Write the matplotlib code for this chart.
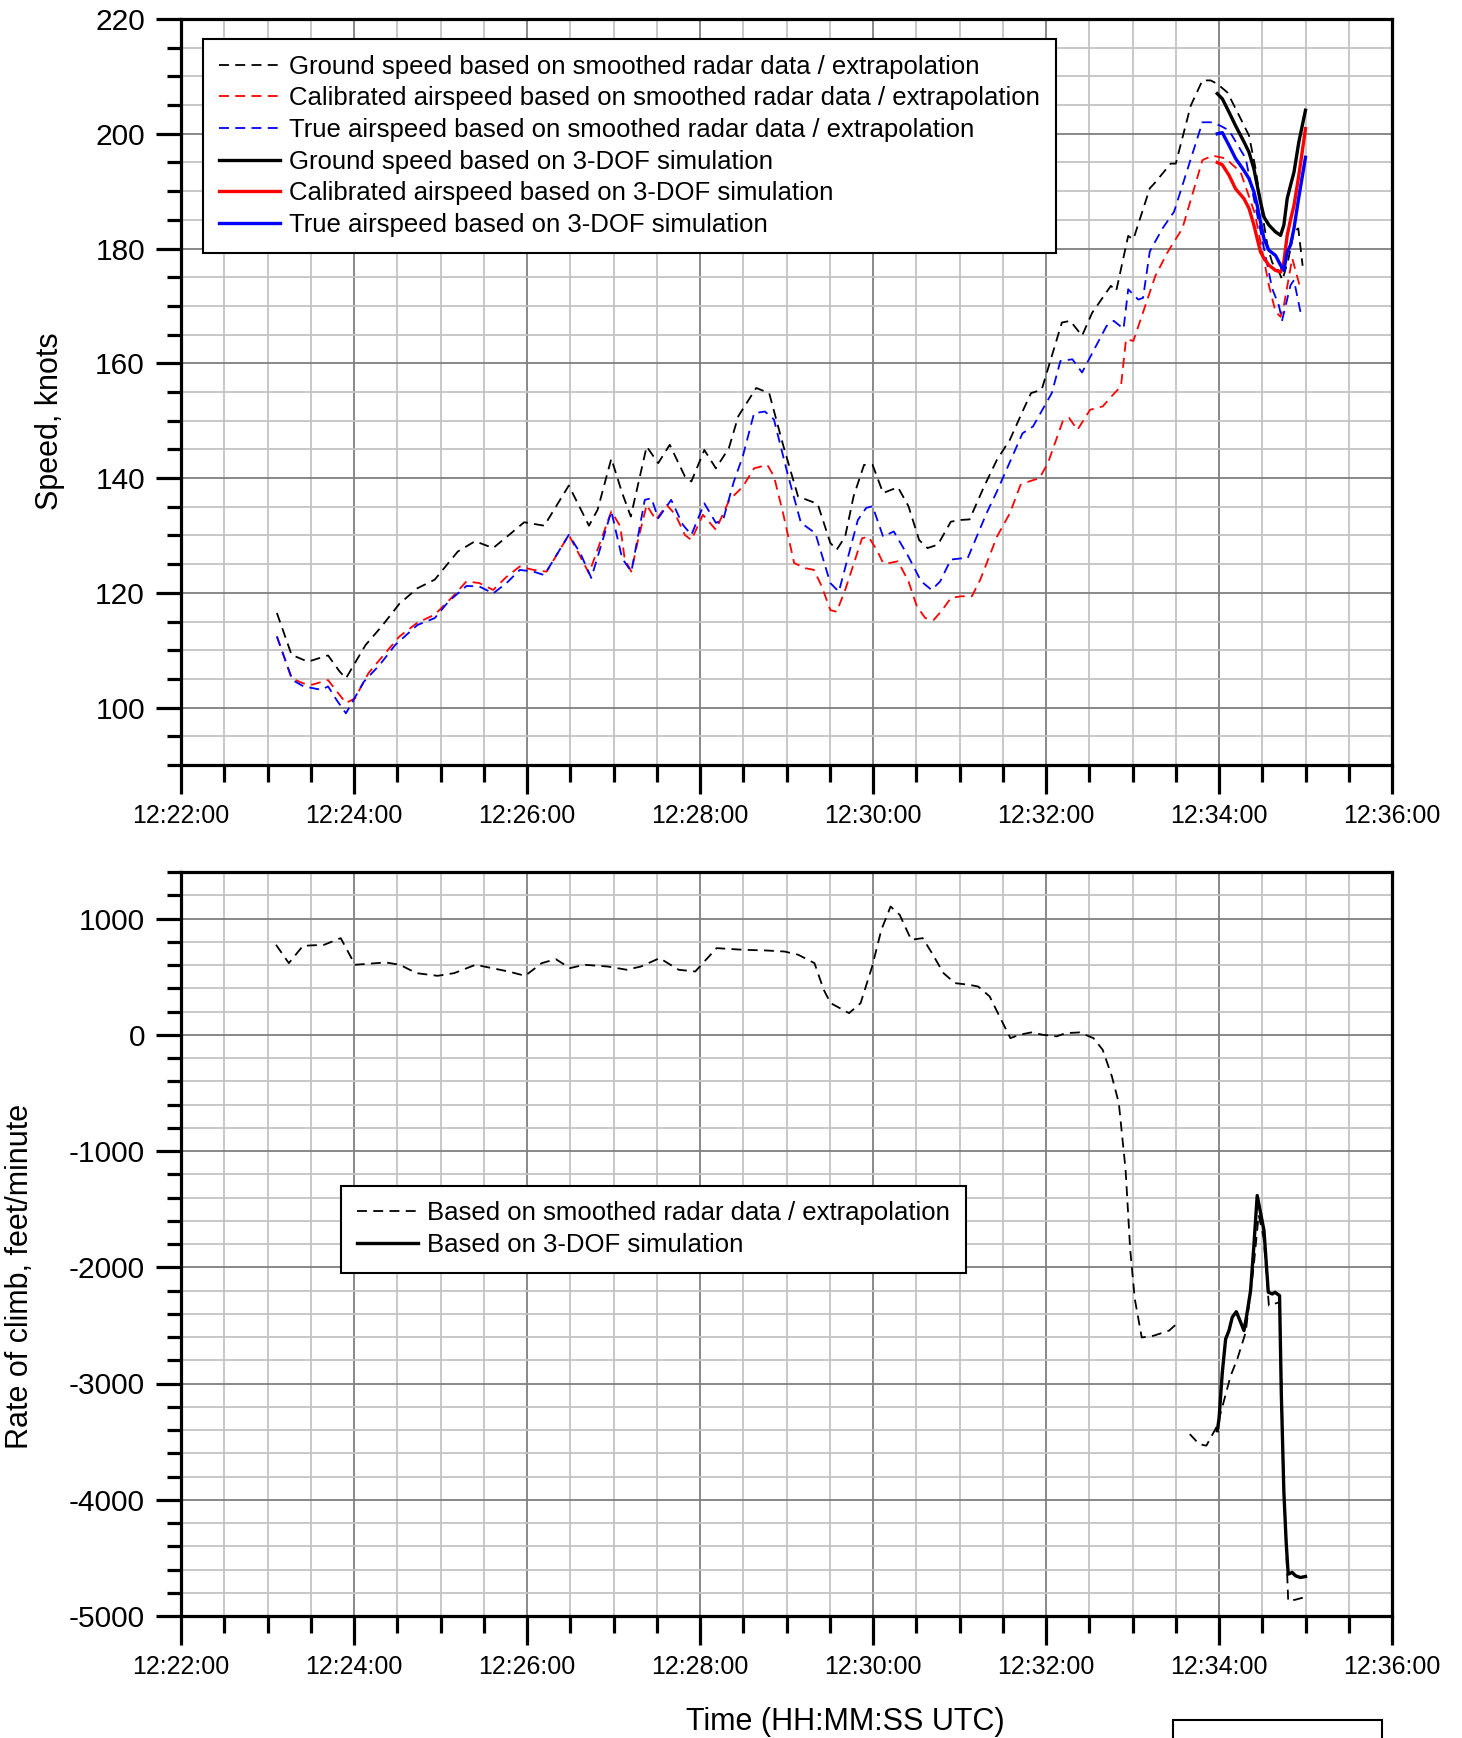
import numpy as np
import matplotlib
matplotlib.use("Agg")
import matplotlib.pyplot as plt
from matplotlib.ticker import MultipleLocator, FuncFormatter
from matplotlib.patches import Rectangle

plt.rcParams['font.family'] = ['Liberation Sans', 'DejaVu Sans']
plt.rcParams['axes.unicode_minus'] = False

# time axis: seconds after 12:22:00 UTC
T0 = 12 * 3600 + 22 * 60

# ---- top chart: speeds (knots) ----
gs_radar_t = [66.5, 76.7, 88, 102, 110, 114.4, 128, 139, 151.5, 164, 176, 192, 204, 216.5, 229, 238, 252,
              269, 283, 289, 298.5, 306, 312, 323, 331, 339, 349.5, 354, 363, 371, 380, 386.6, 399, 408,
              417.6, 428, 441.6, 450.4, 454.8, 460.7, 466.5, 473.8, 479.7, 487, 497.3, 504.6, 512, 517.8,
              525, 534, 541, 547, 557, 566, 575, 583.7, 589.6, 597, 611, 616.8, 625, 632, 645, 648.7, 657,
              660.6, 672, 675, 686.5, 690, 700.4, 708.5, 714.2, 718.8, 725.8, 732.7, 740.8, 745.4, 750,
              754, 757, 761.5, 764, 768, 772, 775, 778]
gs_radar_v = [116.5, 109.2, 108.0, 109.1, 106.3, 105.1, 110.9, 114.1, 118.1, 120.8, 122.3, 127.2, 129.0, 127.8,
              130.4, 132.3, 131.7, 138.7, 131.7, 134.5, 143.4, 137.4, 133.3, 145.5, 142.6, 145.8, 140.3,
              139.4, 144.9, 141.7, 145.2, 150.8, 155.7, 154.8, 145.8, 136.8, 135.5, 128.7, 127.5, 129.8,
              136.8, 142.3, 142.3, 137.4, 138.4, 135.1, 129.2, 127.8, 128.4, 132.4, 132.7, 132.8, 138.5,
              143.2, 146.7, 151.6, 154.8, 155.4, 167.1, 167.4, 164.8, 168.8, 173.5, 172.6, 182.2, 181.6,
              190.5, 191.3, 194.8, 194.8, 204.9, 209.3, 209.3, 208.7, 207.2, 203.8, 199.7, 193.9, 186,
              180, 177.5, 176, 174.5, 178, 183, 183.5, 177]

cas_radar_t = [66.5, 76.7, 85, 91, 102, 114.4, 120.6, 130, 140.7, 151.5, 164, 176, 188.7, 198, 207, 216.5,
               225.8, 235, 244.4, 253.6, 269, 277, 283, 298.5, 304.7, 307.8, 312.4, 317, 323, 329.4, 337,
               343, 349.5, 354, 362, 371, 380.4, 389.7, 397.5, 406.7, 411.3, 417.6, 425.3, 433, 439, 444.5,
               450.4, 454.8, 460.7, 472.4, 476.8, 482.6, 487, 491.4, 497.3, 504.6, 510.5, 516.3, 522.2,
               528, 534, 541, 548.6, 554.4, 566, 575, 582.3, 588.1, 595.5, 601.3, 611.6, 616, 621.8, 630.6,
               639.4, 645.3, 652, 655.5, 660.6, 675.8, 684.2, 694.6, 708.5, 715.4, 724.6, 735, 745, 754.6,
               759.2, 762.7, 765, 770.8, 776.5]
cas_radar_v = [112.4, 105.1, 104.2, 104.0, 104.8, 100.8, 101.6, 106.0, 109.2, 112.4, 114.8, 116.2, 119.4, 122.0,
               121.7, 120.5, 122.8, 124.6, 124.0, 123.7, 130.1, 126.3, 123.4, 134.2, 131.6, 125.8, 123.7,
               129.2, 135.3, 132.7, 135.3, 133.6, 130.1, 129.2, 133.6, 131.0, 136.2, 138.5, 141.7, 142.3,
               140.3, 133.9, 125.2, 124.3, 124.0, 121.1, 117.0, 116.7, 120.5, 129.5, 129.8, 127.5, 125.2,
               125.2, 125.5, 122.0, 117.6, 115.6, 115.3, 117.0, 119.1, 119.4, 119.4, 122.3, 129.8, 133.9,
               138.8, 139.4, 140.0, 142.6, 149.9, 150.5, 148.4, 151.9, 152.5, 154.2, 156.0, 164.2, 163.9,
               175.2, 179.3, 183.5, 195.4, 196.2, 195.7, 193.3, 186, 173.6, 169, 168.1, 170.1, 178.3, 173]

tas_radar_t = [66.5, 77.3, 85, 97.4, 102, 108, 114.4, 126.8, 138, 148.5, 164, 176, 185.6, 198, 207, 216.5,
               225.8, 235, 244.4, 252, 269, 277, 284.6, 298.5, 306, 312.4, 321.7, 326.3, 331, 340, 348, 354,
               363, 371, 376, 383.5, 389.7, 397.5, 405, 411.3, 420.6, 430, 440, 450.4, 456.3, 469.5, 475.3,
               479.7, 487, 494.4, 504.6, 513.4, 520.7, 526.6, 534, 541, 545.6, 558.8, 566, 583.7, 591, 604,
               610, 618.3, 625, 642, 647, 653.8, 657, 664, 667.3, 672, 680.8, 688.8, 708.5, 715.4, 720.9,
               726.9, 738.5, 748, 756.9, 761.5, 763.8, 769.6, 772, 777.2]
tas_radar_v = [112.4, 104.8, 103.7, 103.1, 103.7, 101.3, 99.0, 104.5, 107.5, 110.9, 114.4, 115.6, 118.5, 121.2,
               121.1, 119.9, 121.7, 124.0, 123.7, 123.1, 130.1, 126.9, 122.6, 134.2, 126.0, 123.7, 136.2,
               136.5, 133.0, 136.2, 131.9, 130.1, 135.6, 132.2, 132.7, 139.4, 143.8, 151.3, 151.6, 150.2,
               140.9, 132.2, 130.4, 121.7, 120.2, 132.7, 134.8, 135.1, 129.8, 130.7, 126.3, 122.0, 120.5,
               122.0, 125.8, 126.0, 126.0, 133.9, 137.7, 147.8, 149.0, 154.8, 160.4, 160.7, 158.4, 166.5,
               167.4, 166.0, 172.9, 171.1, 171.4, 179.5, 183.5, 186.4, 202.0, 202.0, 201.4, 200.6, 195.7,
               184, 173.0, 170.1, 167.5, 173.6, 174.5, 168.1]

sim_t = [718.8, 722.3, 726.9, 731.5, 737.3, 740.8, 744.2, 746.5, 748.8, 751.2, 754.6, 759.2, 762.7, 765,
         767.3, 769.6, 772, 775.4, 780]
gs_sim_v = [207.0, 206.1, 203.8, 201.4, 198.6, 196.8, 193.9, 191.0, 188.1, 185.5, 184.1, 182.9, 182.3, 184.1,
            188.7, 191.0, 193.3, 198.6, 204.1]
cas_sim_v = [195.0, 194.6, 192.8, 190.4, 188.7, 187.0, 184.1, 181.7, 179.4, 178.3, 177.1, 176.2, 175.9, 177.7,
             182.3, 185.0, 187.5, 192.8, 200.9]
tas_sim_v = [200.0, 200.2, 198.0, 195.7, 193.6, 192.2, 189.9, 187.5, 184.6, 181.7, 179.7, 178.8, 177.1, 176.2,
             179.4, 180.6, 183.5, 189.0, 195.9]

# ---- bottom chart: rate of climb (ft/min) ----
roc_radar_t = [65.9, 74.8, 84.6, 99.3, 110.8, 120.7, 142, 151.8, 163.3, 178, 189.5, 204.3, 215.7, 227.2, 238.7,
               250.2, 260, 269.8, 279.7, 296, 309.2, 319, 332, 345.2, 356.7, 371.5, 389.8, 405.8, 418.6,
               428.2, 439.4, 445.8, 450.6, 463.4, 471.4, 479.4, 485.8, 492.2, 498.5, 506.5, 514.5, 520.9,
               528.9, 536.9, 546.5, 552.9, 560.9, 568.9, 575.3, 581.7, 589.7, 597.7, 607.3, 613.7, 623.3,
               632.9, 639.3, 645.7, 650.5, 655.2, 656.8, 658.4, 661.6, 666.4, 674.4, 685.4, 690.5, 695,
               699.7, 706.2, 711.2, 718.8, 728.1, 732.7, 738.5, 744, 747.5, 751, 754.6, 762, 765, 768, 773,
               778.8]
roc_radar_v = [774, 616, 765, 774, 831, 602, 622, 602, 530, 507, 530, 602, 573, 544, 507, 616, 650, 573, 602,
               587, 559, 587, 659, 559, 544, 745, 731, 725, 716, 688, 616, 387, 272, 186, 272, 587, 903, 1103,
               1032, 817, 831, 702, 530, 444, 430, 415, 330, 129, -29, 0, 20, 0, -14, 14, 20, -29, -129, -358,
               -587, -1160, -1504, -1848, -2274, -2604, -2590, -2545, -2488, np.nan, -3435, -3521, -3535,
               -3363, -2933, -2789, -2560, -2000, -1550, -1750, -2330, -2300, -3900, -4870, -4860, -4840]

roc_sim_t = [718.8, 720, 722.3, 724.6, 726.9, 729.2, 732, 735, 737.3, 739.2, 741.9, 744.2, 746.5, 751.2, 754.2,
             757, 758.8, 762, 763.2, 765, 766.6, 768, 770.8, 773.1, 776.5, 780]
roc_sim_v = [-3406, -3306, -2904, -2617, -2545, -2430, -2382, -2473, -2545, -2416, -2201, -1813, -1383, -1684,
             -2215, -2230, -2215, -2244, -3076, -3937, -4367, -4640, -4625, -4654, -4669, -4660]

top_labels = ["Ground speed based on smoothed radar data / extrapolation",
              "Calibrated airspeed based on smoothed radar data / extrapolation",
              "True airspeed based on smoothed radar data / extrapolation",
              "Ground speed based on 3-DOF simulation",
              "Calibrated airspeed based on 3-DOF simulation",
              "True airspeed based on 3-DOF simulation"]
bottom_labels = ["Based on smoothed radar data / extrapolation", "Based on 3-DOF simulation"]


def hms(x, pos):
    s = int(round(T0 + x))
    return "%d:%02d:%02d" % (s // 3600, (s % 3600) // 60, s % 60)


W, H = 1462, 1738
fig = plt.figure(figsize=(W / 100, H / 100), dpi=100)
left, right = 181, 1392
ax1 = fig.add_axes([left / W, 1 - 765 / H, (right - left) / W, (765 - 19) / H])
ax2 = fig.add_axes([left / W, 1 - 1616 / H, (right - left) / W, (1616 - 872) / H])

DASH = (0, (5.5, 3.5))
dlw, slw = 1.3, 2.4

ax1.plot(gs_radar_t, gs_radar_v, color='black', lw=dlw, ls=DASH, label=top_labels[0])
ax1.plot(cas_radar_t, cas_radar_v, color='red', lw=dlw, ls=DASH, label=top_labels[1])
ax1.plot(tas_radar_t, tas_radar_v, color='blue', lw=dlw, ls=DASH, label=top_labels[2])
ax1.plot(sim_t, gs_sim_v, color='black', lw=slw, label=top_labels[3])
ax1.plot(sim_t, cas_sim_v, color='red', lw=slw, label=top_labels[4])
ax1.plot(sim_t, tas_sim_v, color='blue', lw=slw, label=top_labels[5])

ax2.plot(roc_radar_t, roc_radar_v, color='black', lw=dlw, ls=DASH, label=bottom_labels[0])
ax2.plot(roc_sim_t, roc_sim_v, color='black', lw=slw, label=bottom_labels[1])

ax1.set_ylim(90, 220)
ax1.yaxis.set_major_locator(MultipleLocator(20))
ax1.yaxis.set_minor_locator(MultipleLocator(5))
ax2.set_ylim(-5000, 1400)
ax2.yaxis.set_major_locator(MultipleLocator(1000))
ax2.yaxis.set_minor_locator(MultipleLocator(200))

for ax in (ax1, ax2):
    ax.set_xlim(0, 840)
    ax.xaxis.set_major_locator(MultipleLocator(120))
    ax.xaxis.set_minor_locator(MultipleLocator(30))
    ax.xaxis.set_major_formatter(FuncFormatter(hms))
    ax.grid(which='minor', color='#c4c4c4', lw=1.3, zorder=0)
    ax.grid(which='major', color='#7f7f7f', lw=1.3, zorder=0)
    ax.set_axisbelow(True)
    for sp in ax.spines.values():
        sp.set_linewidth(2.3)
    ax.tick_params(axis='x', which='major', length=21, width=2.3, labelsize=18, pad=7)
    ax.tick_params(axis='x', which='minor', length=12, width=2.3)
    ax.tick_params(axis='y', which='major', length=18, width=2.3, labelsize=21.5, pad=8)
    ax.tick_params(axis='y', which='minor', length=10, width=2.3)

leg_kw = dict(frameon=True, fancybox=False, framealpha=1, edgecolor='black', fontsize=18.5,
              handlelength=2.4, handletextpad=0.35, borderpad=0.6, labelspacing=0.3, borderaxespad=0)
l1 = ax1.legend(loc='upper left', bbox_to_anchor=(0.0184, 0.973), **leg_kw)
l1.get_frame().set_linewidth(1.5)
l2 = ax2.legend(loc='upper left', bbox_to_anchor=(0.1323, 0.578), **leg_kw)
l2.get_frame().set_linewidth(1.5)

fig.text(50 / W, 1 - 421 / H, "Speed, knots", rotation=90, ha='center', va='center', fontsize=22)
fig.text(20 / W, 1 - 1276 / H, "Rate of climb, feet/minute", rotation=90, ha='center', va='center', fontsize=22)
fig.text(845 / W, 1 - 1722 / H, "Time (HH:MM:SS UTC)", ha='center', va='center', fontsize=22)

# empty box partly cut off at the bottom right
fig.patches.append(Rectangle((1173 / W, 1 - 1760 / H), (1382 - 1173) / W, 40 / H,
                             transform=fig.transFigure, fill=False, edgecolor='black', lw=1.5))

fig.savefig("out.png", dpi=100)
